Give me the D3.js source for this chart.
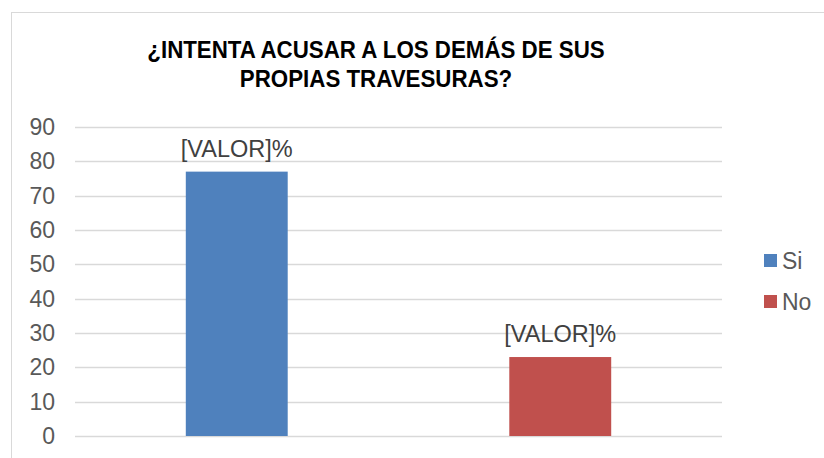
<!DOCTYPE html>
<html>
<head>
<meta charset="utf-8">
<script src="https://cdn.jsdelivr.net/npm/d3@7"></script>
<style>
  html, body { margin: 0; padding: 0; background: #fff; }
  svg { display: block; font-family: "Liberation Sans", Arial, sans-serif; }
</style>
</head>
<body>
<div id="chart"></div>
<script>
// ── data ──
const categories = ['Si', 'No'];
const values = [77, 23];
const colors = ['#4f81bd', '#c0504d'];
const yTicks = [0, 10, 20, 30, 40, 50, 60, 70, 80, 90];
const titleLines = ['¿INTENTA ACUSAR A LOS DEMÁS DE SUS', 'PROPIAS TRAVESURAS?'];
const labelText = '[VALOR]%';

const width = 824, height = 458;
const plot = { left: 75, right: 722, top: 127, bottom: 436 };

const svg = d3.select('#chart').append('svg')
    .attr('width', width)
    .attr('height', height);

// chart area border
svg.append('rect')
    .attr('x', 11.5).attr('y', 12.5)
    .attr('width', width).attr('height', height)
    .attr('fill', '#fff')
    .attr('stroke', '#d9d9d9')
    .attr('stroke-width', 1);

// Title (slightly condensed, like the original)
svg.append('g').selectAll('text')
    .data(titleLines)
    .join('text')
    .attr('transform', (d, i) => `translate(376,${58 + i * 29}) scale(0.95,1)`)
    .attr('text-anchor', 'middle')
    .attr('font-size', 23.5)
    .attr('font-weight', 'bold')
    .attr('fill', '#000')
    .text(d => d);

const x = d3.scaleBand()
    .domain(categories)
    .range([plot.left, plot.right])
    .paddingInner(0.685)
    .paddingOuter(0.3425);

const y = d3.scaleLinear()
    .domain([0, 90])
    .range([plot.bottom, plot.top]);

// gridlines
svg.append('g').selectAll('line')
    .data(yTicks)
    .join('line')
    .attr('x1', plot.left).attr('x2', plot.right)
    .attr('y1', d => Math.round(y(d)) + 0.5)
    .attr('y2', d => Math.round(y(d)) + 0.5)
    .attr('stroke', '#d9d9d9')
    .attr('stroke-width', 1.3);

// y axis labels
const yAxis = d3.axisLeft(y).tickValues(yTicks).tickSize(0).tickPadding(0);
const yg = svg.append('g')
    .attr('transform', `translate(${plot.left - 20},0)`)
    .call(yAxis);
yg.select('.domain').remove();
yg.selectAll('text')
    .attr('font-size', 23)
    .attr('font-family', '"Liberation Sans", Arial, sans-serif')
    .attr('fill', '#595959');

// bars
svg.append('g').selectAll('rect')
    .data(values)
    .join('rect')
    .attr('x', (d, i) => x(categories[i]))
    .attr('y', d => y(d))
    .attr('width', x.bandwidth())
    .attr('height', d => y(0) - y(d))
    .attr('fill', (d, i) => colors[i]);

// data labels
svg.append('g').selectAll('text')
    .data(values)
    .join('text')
    .attr('x', (d, i) => x(categories[i]) + x.bandwidth() / 2)
    .attr('y', d => y(d) - 15)
    .attr('text-anchor', 'middle')
    .attr('font-size', 23.5)
    .attr('fill', '#404040')
    .text(labelText);

// legend
const legend = svg.append('g').selectAll('g')
    .data(categories)
    .join('g')
    .attr('transform', (d, i) => `translate(764,${254 + i * 41})`);
legend.append('rect')
    .attr('width', 13).attr('height', 13)
    .attr('fill', (d, i) => colors[i]);
legend.append('text')
    .attr('x', 18).attr('y', 15)
    .attr('font-size', 23)
    .attr('fill', '#595959')
    .text(d => d);
</script>
</body>
</html>
